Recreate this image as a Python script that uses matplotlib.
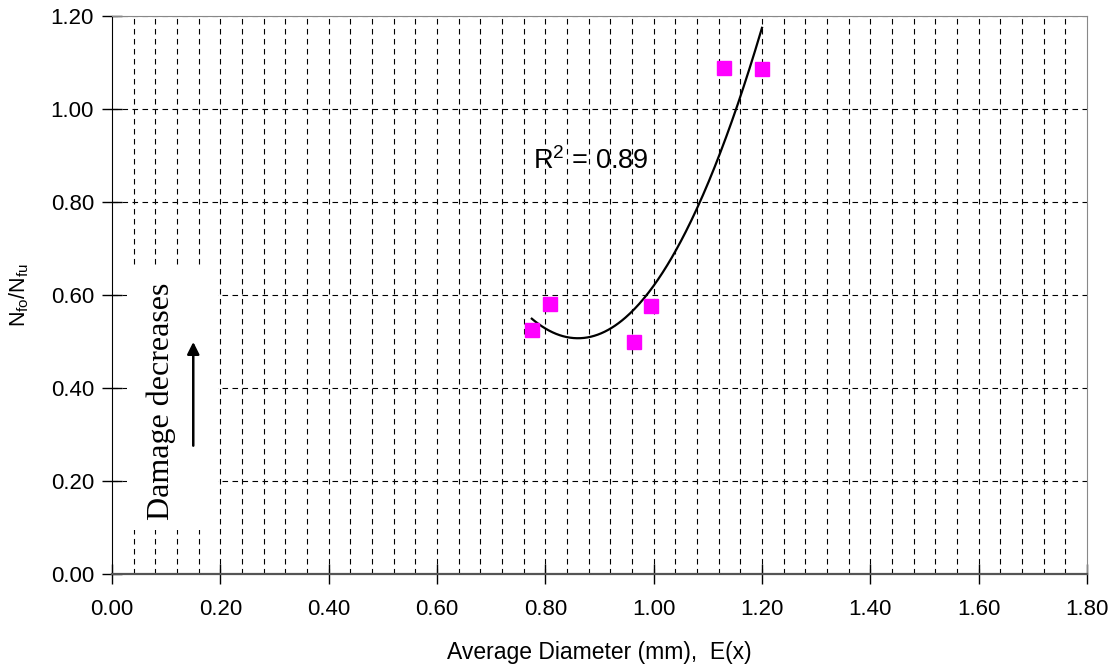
import numpy as np
import matplotlib
matplotlib.use("Agg")
import matplotlib.pyplot as plt
from matplotlib.patches import Rectangle

plt.rcParams["font.family"] = ["Liberation Sans", "DejaVu Sans"]
plt.rcParams["mathtext.fontset"] = "custom"
plt.rcParams["mathtext.rm"] = "Liberation Sans"
plt.rcParams["mathtext.it"] = "Liberation Sans"

# measured points
avg_diameter = [0.775, 0.809, 0.964, 0.995, 1.130, 1.200]
life_ratio = [0.525, 0.581, 0.499, 0.576, 1.088, 1.086]

x_ticks = [0.0, 0.2, 0.4, 0.6, 0.8, 1.0, 1.2, 1.4, 1.6, 1.8]
y_ticks = [0.0, 0.2, 0.4, 0.6, 0.8, 1.0, 1.2]
r2_label = "R$^2$ = 0.89"

fig = plt.figure(figsize=(11.19, 6.72), dpi=100)
ax = fig.add_axes([0.1001, 0.1458, 0.8713, 0.8304])

# dashed vertical grid every 0.04, horizontal at major ticks
for xv in np.arange(0.04, 1.79, 0.04):
    ax.axvline(xv, color="black", lw=0.8, ls=(0, (5, 4)), zorder=1)
for yv in y_ticks[1:]:
    ax.axhline(yv, color="black", lw=0.8, ls=(0, (5, 4)), zorder=1)

# second order trendline (as in the spreadsheet)
coef = np.polyfit(avg_diameter, life_ratio, 2)
xs = np.linspace(min(avg_diameter), max(avg_diameter), 200)
ax.plot(xs, np.polyval(coef, xs), color="black", lw=1.6, zorder=3)

ax.plot(avg_diameter, life_ratio, ls="none", marker="s", ms=10,
        color="#FF00FF", mec="#FF00FF", zorder=4)

ax.text(0.777, 0.87, r2_label, fontsize=19.5, zorder=5)

# annotation box with arrow
ax.add_patch(Rectangle((0.028, 0.095), 0.167, 0.57, facecolor="white",
                       edgecolor="none", zorder=2))
ax.text(0.09, 0.372, "Damage decreases", rotation=90, ha="center",
        va="center", fontsize=23, family=["Liberation Serif"], zorder=5)
ax.annotate("", xy=(0.15, 0.505), xytext=(0.15, 0.27),
            arrowprops=dict(arrowstyle="-|>", color="black", lw=1.8,
                            mutation_scale=18), zorder=5)

ax.set_xlim(0, 1.8)
ax.set_ylim(0, 1.2)
ax.set_xticks(x_ticks)
ax.set_yticks(y_ticks)
ax.set_xticklabels([f"{v:.2f}" for v in x_ticks])
ax.set_yticklabels([f"{v:.2f}" for v in y_ticks])
ax.tick_params(axis="both", labelsize=16, direction="inout", length=14, width=1)
ax.tick_params(axis="x", pad=11)
ax.tick_params(axis="y", pad=6)

ax.set_xlabel("Average Diameter (mm),  E(x)", fontsize=16.5, labelpad=15)
ax.set_ylabel("N$_{fo}$/N$_{fu}$", fontsize=15.5, labelpad=14)

ax.spines["left"].set_color("black")
ax.spines["bottom"].set_color("#555555")
ax.spines["bottom"].set_linewidth(1.6)
ax.spines["top"].set_color("#888888")
ax.spines["right"].set_color("#888888")

fig.savefig("out.png", dpi=100)
